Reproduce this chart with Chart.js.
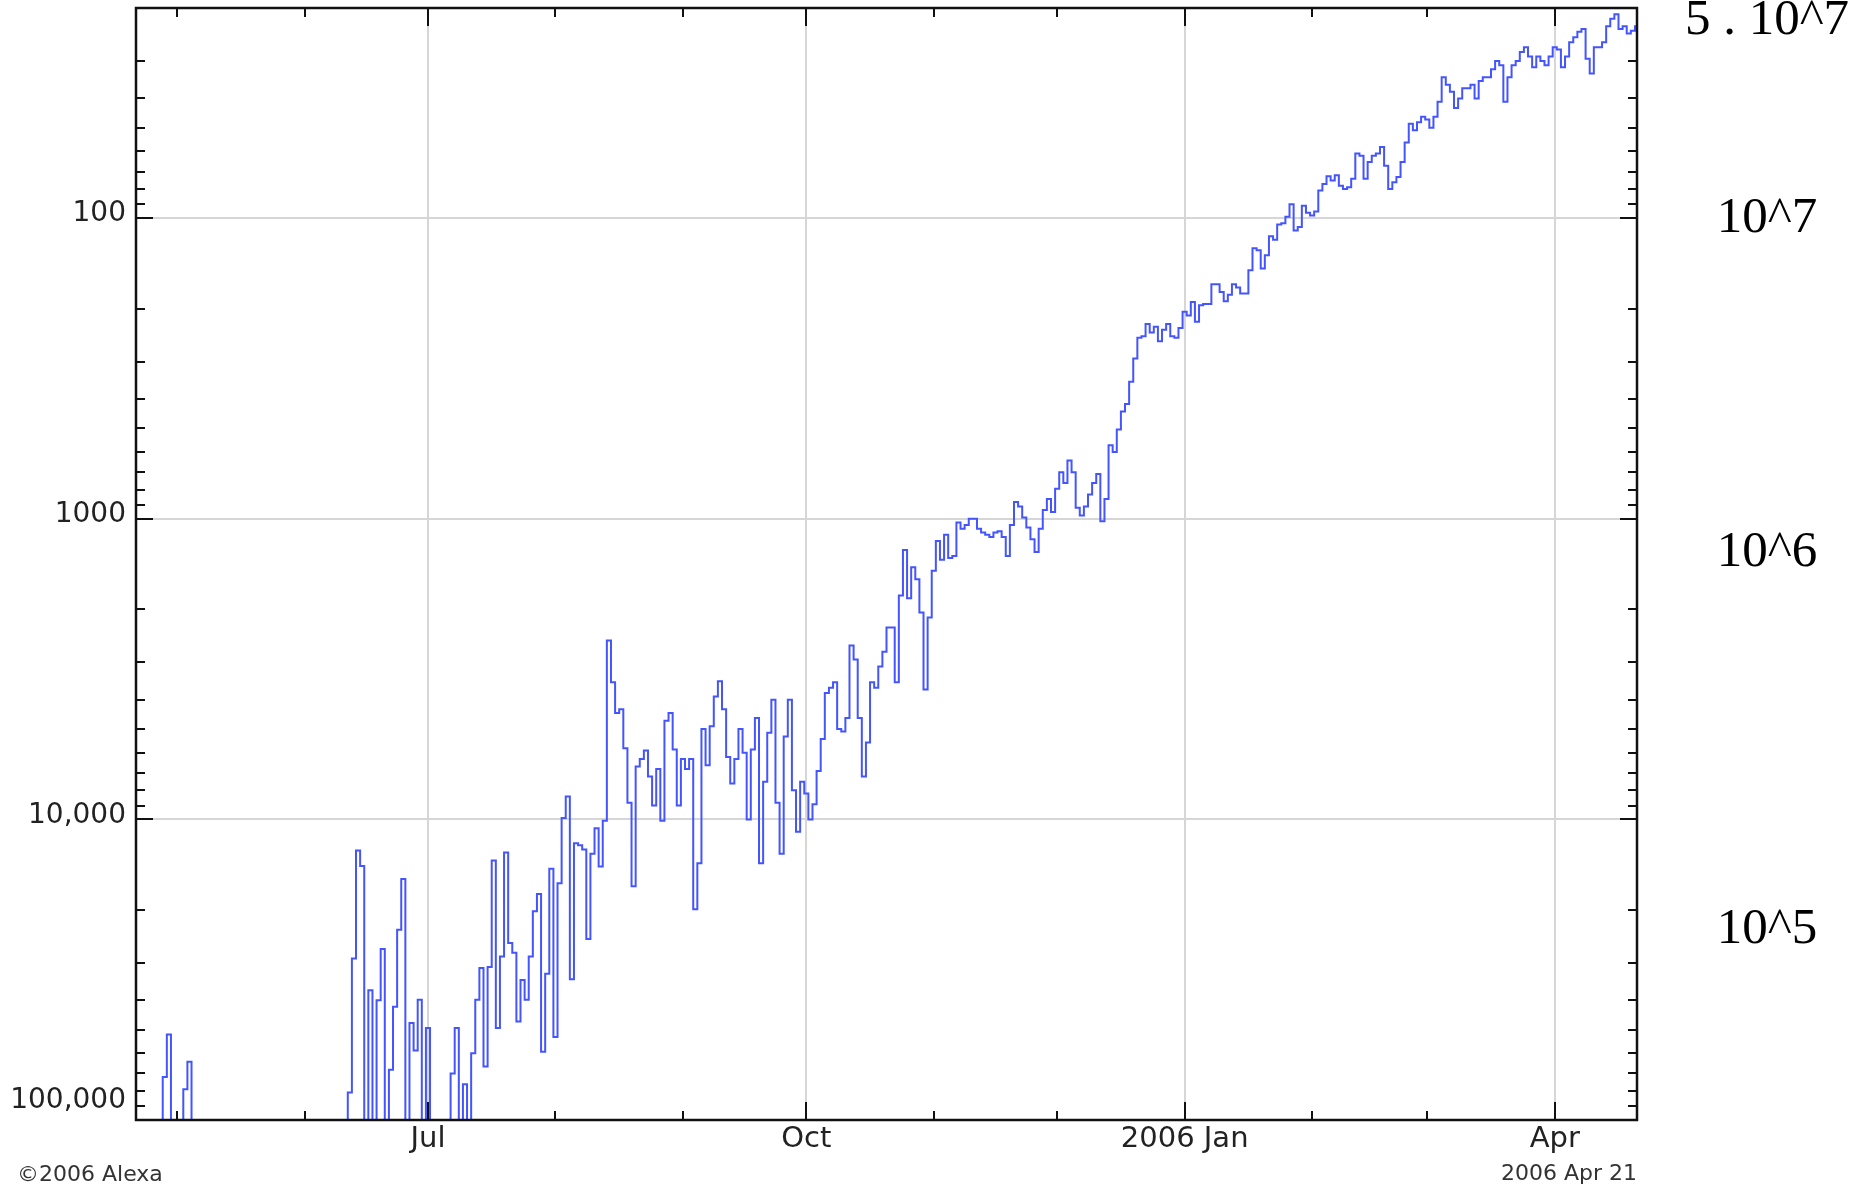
<!DOCTYPE html>
<html lang="en">
<head>
<meta charset="utf-8">
<title>Alexa traffic rank</title>
<script src="https://cdn.jsdelivr.net/npm/chart.js@4.4.1/dist/chart.umd.min.js"></script>
<style>
  html, body { margin: 0; padding: 0; background: #fff; }
  #area { position: relative; width: 1874px; height: 1188px; }
</style>
</head>
<body>
<div id="area"><canvas id="grafico-rank"></canvas></div>
<script>
// Rank diário, um valor por dia a partir de 2005 Apr 21 (dia 0)
const FORA = 1000000; // pior que 100,000: cai abaixo da moldura

const ranks = [
    FORA, FORA, FORA, FORA, FORA, FORA, FORA, 72000, 52000, FORA,
    FORA, FORA, 79000, 64000, FORA, FORA, FORA, FORA, FORA, FORA,
    FORA, FORA, FORA, FORA, FORA, FORA, FORA, FORA, FORA, FORA,
    FORA, FORA, FORA, FORA, FORA, FORA, FORA, FORA, FORA, FORA,
    FORA, FORA, FORA, FORA, FORA, FORA, FORA, FORA, FORA, FORA,
    FORA, FORA, 81000, 29000, 12700, 14300, FORA, 37000, FORA, 40000,
    27000, FORA, 68000, 42000, 23300, 15800, FORA, 47600, 58700, 39800,
    FORA, 49400, FORA, FORA, FORA, FORA, FORA, 70000, 49400, FORA,
    76000, FORA, 60000, 39800, 31200, 66400, 31000, 13700, 49400, 28600,
    12900, 25800, 27800, 47000, 34200, 39800, 28600, 20200, 17700, 59300,
    32600, 14600, 53000, 16300, 9900, 8400, 34000, 12000, 12200, 12600,
    25000, 13000, 10700, 14350, 10100, 2540, 3500, 4430, 4300, 5800,
    8800, 16700, 6670, 6300, 5900, 7200, 9000, 6800, 10100, 4700,
    4430, 5850, 9000, 6300, 6800, 6300, 19900, 14000, 5000, 6600,
    4900, 3900, 3470, 4300, 6200, 7600, 6300, 5000, 6000, 10000,
    5850, 4600, 14000, 7500, 5150, 4000, 8800, 13000, 5300, 4000,
    8000, 11000, 7500, 8200, 10000, 8900, 6900, 5400, 3800, 3650,
    3500, 5000, 5100, 4600, 2640, 2940, 4600, 7200, 5550, 3500,
    3650, 3100, 2770, 2300, 2300, 3500, 1800, 1270, 1840, 1450,
    1590, 2050, 3700, 2130, 1490, 1185, 1370, 1130, 1350, 1330,
    1030, 1080, 1050, 1000, 1000, 1080, 1110, 1130, 1150, 1110,
    1100, 1150, 1330, 1050, 880, 910, 990, 1070, 1170, 1290,
    1080, 935, 860, 950, 795, 700, 760, 640, 700, 920,
    975, 910, 830, 760, 710, 1020, 860, 570, 600, 505,
    440, 415, 350, 293, 250, 247, 225, 240, 230, 257,
    235, 225, 247, 250, 232, 205, 211, 190, 221, 195,
    193, 193, 166, 166, 176, 189, 180, 166, 170, 178,
    178, 149, 126, 128, 147, 133, 115, 118, 105, 104,
    99, 90, 110, 107, 91, 96, 98, 95, 81, 77,
    72.5, 75, 72, 78, 80, 79, 74, 61, 62, 74,
    65, 62, 61, 58, 67, 80, 76, 73, 65, 56,
    48.5, 51, 48, 46, 47, 50, 46, 41, 34, 36,
    38, 43, 40, 37, 37, 36, 40, 35, 34, 34,
    32, 30, 31, 41, 34, 31, 30, 28, 27, 29,
    31.5, 29, 30, 31, 29, 27, 27.5, 31.5, 29, 26,
    25, 24, 23.5, 29.5, 33, 27, 27, 26, 23, 21.7,
    21, 23.5, 23, 24.3, 23.8, 23
];

// Eixo x: dias desde 2005 Apr 21
const inicioMeses = [10, 41, 71, 102, 133, 163, 194, 224, 255, 286, 314, 345];
const inicioTrimestres = [71, 163, 255, 345];
const rotulosTrimestres = ['Jul', 'Oct', '2006 Jan', 'Apr'];

// Eixo y: rank (escala log invertida)
const marcasRank = [100, 1000, 10000, 100000];
const rotulosRank = ['100', '1000', '10,000', '100,000'];

// Anotações à direita e o rank em que cada uma está
const rotulosDireita = ['5 . 10^7', '10^7', '10^6', '10^5'];
const rankDireita = [22, 100, 1300, 23300];

const textoCopyright = '\u00A92006 Alexa';
const textoData = '2006 Apr 21';

document.addEventListener('DOMContentLoaded', function() {
    criarGraficoRank();
});

// Plugin para moldura, marcas internas e textos
const pluginMoldura = {
    id: 'moldura',
    afterDraw(chart) {
        const ctx = chart.ctx;
        const area = chart.chartArea;
        const escalaX = chart.scales.x;
        const escalaY = chart.scales.y;

        ctx.save();
        ctx.strokeStyle = '#111';
        ctx.lineWidth = 2;
        ctx.beginPath();

        // Marcas do eixo y, nos dois lados
        for (let exp = 1; exp <= 4; exp++) {
            for (let m = 2; m <= 9; m++) {
                const valor = m * Math.pow(10, exp);
                if (valor <= escalaY.min || valor >= escalaY.max) continue;
                const py = Math.round(escalaY.getPixelForValue(valor));
                ctx.moveTo(area.left, py); ctx.lineTo(area.left + 9, py);
                ctx.moveTo(area.right, py); ctx.lineTo(area.right - 9, py);
            }
        }
        marcasRank.forEach(valor => {
            const py = Math.round(escalaY.getPixelForValue(valor));
            ctx.moveTo(area.left, py); ctx.lineTo(area.left + 17, py);
            ctx.moveTo(area.right, py); ctx.lineTo(area.right - 17, py);
        });

        // Marcas do eixo x, em cima e embaixo
        inicioMeses.forEach(dia => {
            const px = Math.round(escalaX.getPixelForValue(dia));
            const tam = inicioTrimestres.includes(dia) ? 18 : 9;
            ctx.moveTo(px, area.top); ctx.lineTo(px, area.top + tam);
            ctx.moveTo(px, area.bottom); ctx.lineTo(px, area.bottom - tam);
        });
        ctx.stroke();

        // Moldura
        ctx.lineWidth = 2.5;
        ctx.strokeRect(area.left, area.top, area.right - area.left, area.bottom - area.top);

        // Rótulos do eixo y
        ctx.fillStyle = '#222';
        ctx.font = '28px "DejaVu Sans"';
        ctx.textAlign = 'right';
        ctx.textBaseline = 'middle';
        marcasRank.forEach((valor, i) => {
            const py = Math.min(escalaY.getPixelForValue(valor) - 4, area.bottom - 19);
            ctx.fillText(rotulosRank[i], area.left - 10, py);
        });

        // Rótulos do eixo x
        ctx.font = '29px "DejaVu Sans"';
        ctx.textAlign = 'center';
        inicioTrimestres.forEach((dia, i) => {
            ctx.fillText(rotulosTrimestres[i], escalaX.getPixelForValue(dia), area.bottom + 19);
        });

        // Rodapé
        ctx.fillStyle = '#333';
        ctx.font = '22px "DejaVu Sans"';
        ctx.textAlign = 'left';
        ctx.fillText(textoCopyright, 17, area.bottom + 55);
        ctx.textAlign = 'right';
        ctx.fillText(textoData, area.right, area.bottom + 54);

        // Anotações à direita
        ctx.fillStyle = '#000';
        ctx.font = '51px "Liberation Serif"';
        ctx.textAlign = 'center';
        rotulosDireita.forEach((texto, i) => {
            ctx.fillText(texto, area.right + 130, escalaY.getPixelForValue(rankDireita[i]));
        });

        ctx.restore();
    }
};

// Função para criar o gráfico de rank
function criarGraficoRank() {
    const ctx = document.getElementById('grafico-rank');
    if (!ctx) return;

    const pontos = ranks.map((r, dia) => ({ x: dia, y: r }));

    new Chart(ctx, {
        type: 'line',
        data: {
            datasets: [{
                data: pontos,
                borderColor: '#4455ff',
                borderWidth: 2,
                pointRadius: 0,
                stepped: 'middle',
                fill: false
            }]
        },
        options: {
            responsive: true,
            maintainAspectRatio: false,
            animation: false,
            layout: {
                padding: { top: 8, right: 237, left: 0, bottom: 0 }
            },
            plugins: {
                legend: { display: false },
                tooltip: { enabled: false }
            },
            scales: {
                x: {
                    type: 'linear',
                    min: 0,
                    max: 365,
                    afterBuildTicks: function(escala) {
                        escala.ticks = inicioTrimestres.map(v => ({ value: v }));
                    },
                    afterFit: function(escala) {
                        escala.height = 68;
                    },
                    ticks: { display: false },
                    border: { display: false },
                    grid: { color: '#d6d6d6', lineWidth: 2, drawTicks: false }
                },
                y: {
                    type: 'logarithmic',
                    reverse: true,
                    min: 20,
                    max: 100000,
                    afterBuildTicks: function(escala) {
                        escala.ticks = marcasRank.slice(0, 3).map(v => ({ value: v }));
                    },
                    afterFit: function(escala) {
                        escala.width = 136;
                    },
                    ticks: { display: false },
                    border: { display: false },
                    grid: { color: '#d6d6d6', lineWidth: 2, drawTicks: false }
                }
            }
        },
        plugins: [pluginMoldura]
    });
}
</script>
</body>
</html>
